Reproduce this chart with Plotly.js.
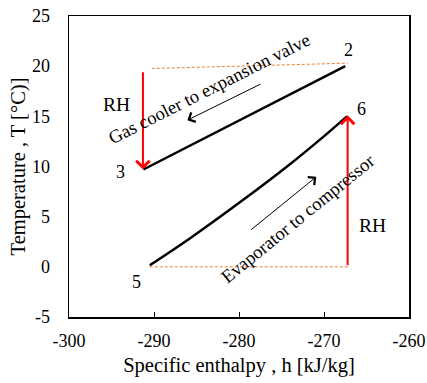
<!DOCTYPE html>
<html>
<head>
<meta charset="utf-8">
<script src="https://cdn.plot.ly/plotly-3.0.1.min.js"></script>
<style>html,body{margin:0;padding:0;background:#fff;}#chart{width:427px;height:383px;}</style>
</head>
<body>
<div id="chart"></div>
<script>
// ---- data ----
var gasCoolerH = [-291.25, -285.0, -279.0, -273.0, -267.5];
var gasCoolerT = [9.7, 12.4, 15.0, 17.6, 20.0];
var evapH = [-290.5, -285.75, -279.86, -273.97, -270.44, -267.3];
var evapT = [0.15, 2.85, 6.45, 10.25, 12.7, 15.0];
var dotUpperH = [-290.26, -267.2];
var dotUpperT = [19.77, 20.3];
var dotLowerH = [-290.5, -267.2];
var dotLowerT = [0.0, 0.0];
// red RH arrows: [tailH, tailT, headH, headT]
var rhLeft = [-291.3, 19.55, -291.3, 9.7];
var rhRight = [-267.22, 0.0, -267.22, 15.1];
// thin direction arrows
var dirUpper = [-277.3, 18.28, -286.07, 14.62];
var dirLower = [-278.76, 3.57, -270.91, 8.97];
// point labels
var ptLabels = ['2', '3', '5', '6'];
var ptH = [-267.14, -293.9, -292.1, -265.6];
var ptT = [21.6, 9.41, -1.48, 15.72];
var xTickVals = [-300, -290, -280, -270, -260];
var xTickText = ['-300', '-290', '-280', '-270', '-260'];
var yTickVals = [-5, 0, 5, 10, 15, 20, 25];
var yTickText = ['-5', '0', '5', '10', '15', '20', '25'];

var FONT = 'Liberation Serif, Times New Roman, serif';
var ORANGE = '#ED7D31';

var traces = [
  {x: dotUpperH, y: dotUpperT, mode: 'lines', line: {color: ORANGE, width: 1, dash: '3px,2px'}, hoverinfo: 'skip'},
  {x: dotLowerH, y: dotLowerT, mode: 'lines', line: {color: ORANGE, width: 1, dash: '3px,2px'}, hoverinfo: 'skip'},
  {x: gasCoolerH, y: gasCoolerT, mode: 'lines', line: {color: '#000', width: 2.5}},
  {x: evapH, y: evapT, mode: 'lines', line: {color: '#000', width: 2.5, shape: 'spline', smoothing: 1}}
];

function arrow(a, color, width, size) {
  return {x: a[2], y: a[3], ax: a[0], ay: a[1], xref: 'x', yref: 'y', axref: 'x', ayref: 'y',
    text: '', showarrow: true, arrowhead: 4, arrowcolor: color, arrowwidth: width, arrowsize: size, standoff: 0};
}

var annotations = [
  arrow(rhLeft, '#ff0000', 2, 1.3),
  arrow(rhRight, '#ff0000', 2, 1.3),
  arrow(dirUpper, '#000', 1, 2),
  arrow(dirLower, '#000', 1, 2),
  {x: -283.5, y: 17.7, xref: 'x', yref: 'y', text: 'Gas cooler to expansion valve', textangle: -26.8, showarrow: false, font: {family: FONT, size: 18.5, color: '#000'}},
  {x: -273.1, y: 4.81, xref: 'x', yref: 'y', text: 'Evaporator to compressor', textangle: -39.2, showarrow: false, font: {family: FONT, size: 18.5, color: '#000'}},
  {x: -294.46, y: 16.22, xref: 'x', yref: 'y', text: 'RH', showarrow: false, font: {family: FONT, size: 19.5, color: '#000'}},
  {x: -264.35, y: 4.09, xref: 'x', yref: 'y', text: 'RH', showarrow: false, font: {family: FONT, size: 19.5, color: '#000'}}
];
for (var i = 0; i < ptLabels.length; i++) {
  annotations.push({x: ptH[i], y: ptT[i], xref: 'x', yref: 'y', text: ptLabels[i], showarrow: false, font: {family: FONT, size: 18, color: '#000'}});
}

var layout = {
  width: 427, height: 383,
  margin: {l: 69, r: 18, t: 16, b: 66},
  paper_bgcolor: '#fff', plot_bgcolor: '#fff',
  showlegend: false,
  font: {family: FONT, size: 18, color: '#000'},
  xaxis: {
    range: [-300, -260], tickmode: 'array', tickvals: xTickVals, ticktext: xTickText,
    showgrid: false, zeroline: false, showline: true, linecolor: '#000', linewidth: 1.5, mirror: true,
    ticks: 'inside', ticklen: 5, tickcolor: '#000', tickwidth: 1, ticklabelstandoff: 7,
    tickfont: {family: FONT, size: 18, color: '#000'},
    title: {text: 'Specific enthalpy , h [kJ/kg]', font: {family: FONT, size: 20.5, color: '#000'}, standoff: 7},
    automargin: false
  },
  yaxis: {
    range: [-5, 25], tickmode: 'array', tickvals: yTickVals, ticktext: yTickText,
    showgrid: false, zeroline: false, showline: true, linecolor: '#000', linewidth: 1.5, mirror: true,
    ticks: '', ticklabelstandoff: 14,
    tickfont: {family: FONT, size: 18, color: '#000'},
    title: {text: 'Temperature , T [°C)]', font: {family: FONT, size: 20.5, color: '#000'}, standoff: 0},
    automargin: false
  },
  annotations: annotations
};

Plotly.newPlot('chart', traces, layout, {displayModeBar: false, staticPlot: true});
</script>
</body>
</html>
